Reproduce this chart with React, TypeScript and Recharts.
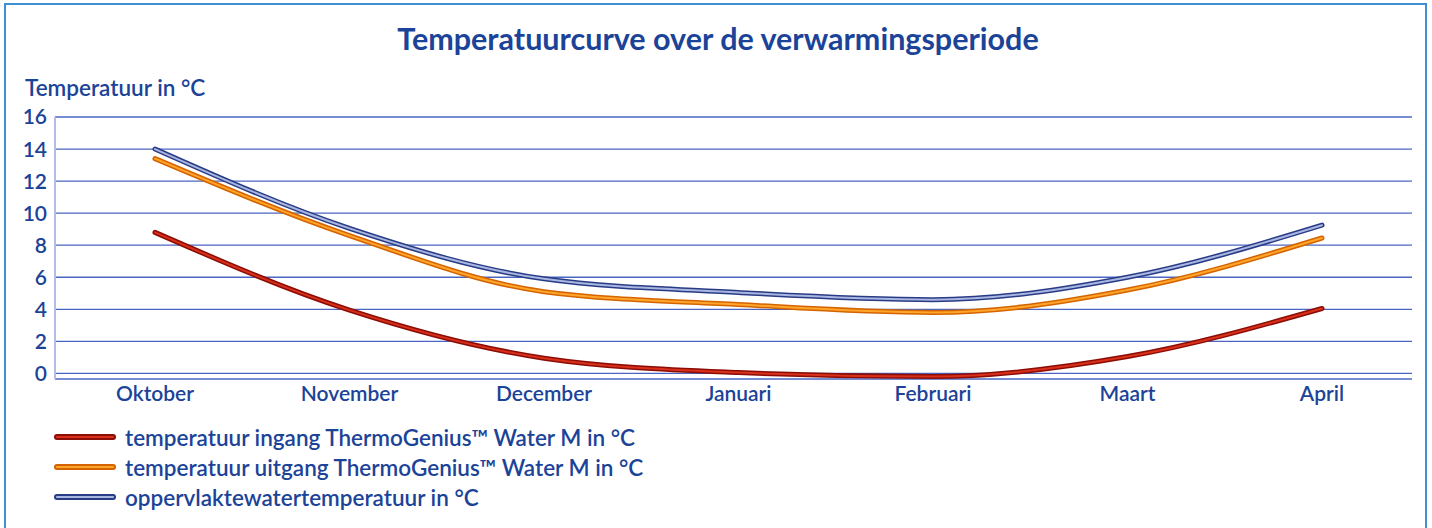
import React from 'react';
import { LineChart, Line, XAxis, YAxis, CartesianGrid } from 'recharts';

const months = ['Oktober', 'November', 'December', 'Januari', 'Februari', 'Maart', 'April'];
const ingang = [8.8, 3.95, 0.95, 0.05, -0.2, 1.05, 4.05];
const uitgang = [13.4, 8.6, 5.1, 4.3, 3.8, 5.2, 8.45];
const oppervlakte = [14.0, 9.05, 5.9, 5.05, 4.6, 6.0, 9.25];
const yTicks = [0, 2, 4, 6, 8, 10, 12, 14, 16];

const title = 'Temperatuurcurve over de verwarmingsperiode';
const yLabel = 'Temperatuur in °C';
const legendItems = [
  { key: 'ingang', label: 'temperatuur ingang ThermoGenius™ Water M in °C', dark: '#8c0c06', light: '#d8301a' },
  { key: 'uitgang', label: 'temperatuur uitgang ThermoGenius™ Water M in °C', dark: '#d46400', light: '#ffa52a' },
  { key: 'oppervlakte', label: 'oppervlaktewatertemperatuur in °C', dark: '#283c86', light: '#aab6e2' },
];

const data = months.map((m, i) => ({
  month: m,
  ingang: ingang[i],
  uitgang: uitgang[i],
  oppervlakte: oppervlakte[i],
}));

const TEXT = '#1b4398';
const FONT = 'Lato, "Open Sans", sans-serif';

export default function App() {
  const series = [...legendItems].reverse();
  return (
    <div style={{ position: 'absolute', left: 0, top: 0, width: 1432, height: 528, background: '#fff', overflow: 'hidden', fontFamily: FONT }}>
      <div style={{ position: 'absolute', left: 4, top: 3, width: 1419, height: 600, border: '2px solid #3f8fd4' }} />
      <div style={{ position: 'absolute', left: 2, top: 19, width: 1432, textAlign: 'center', color: TEXT, fontSize: 30.5, fontWeight: 700, lineHeight: '38px' }}>
        {title}
      </div>
      <div style={{ position: 'absolute', left: 25, top: 73, color: TEXT, fontSize: 22.5, fontWeight: 600, lineHeight: '30px' }}>
        {yLabel}
      </div>
      <div style={{ position: 'absolute', left: 0, top: 0 }}>
        <LineChart width={1432} height={528} data={data} margin={{ top: 117, right: 20, bottom: 119, left: 0 }}>
          <CartesianGrid horizontal vertical={false} stroke="#4a66c2" strokeWidth={1.3} />
          <XAxis
            dataKey="month"
            height={30}
            axisLine={false}
            tickLine={false}
            tickSize={0}
            tickMargin={7}
            padding={{ left: 100, right: 90 }}
            tick={{ fill: TEXT, fontSize: 21, fontWeight: 600, fontFamily: FONT }}
            interval={0}
          />
          <YAxis
            width={55}
            domain={[-0.35, 16]}
            ticks={yTicks}
            axisLine={{ stroke: '#b4bce6', strokeWidth: 2 }}
            tickLine={false}
            tickSize={0}
            tickMargin={8}
            tick={{ fill: TEXT, fontSize: 21, fontWeight: 600, fontFamily: FONT }}
          />
          {series.map((s) => (
            <Line key={s.key + '-o'} type="monotone" dataKey={s.key} stroke={s.dark} strokeWidth={5} dot={false} isAnimationActive={false} strokeLinecap="round" />
          ))}
          {series.map((s) => (
            <Line key={s.key + '-i'} type="monotone" dataKey={s.key} stroke={s.light} strokeWidth={2} dot={false} isAnimationActive={false} strokeLinecap="round" />
          ))}
        </LineChart>
      </div>
      {legendItems.map((item, i) => (
        <div key={item.key} style={{ position: 'absolute', left: 54, top: 422 + i * 30, height: 30, display: 'flex', alignItems: 'center' }}>
          <svg width={62} height={10} style={{ display: 'block' }}>
            <line x1={3} y1={5} x2={59} y2={5} stroke={item.dark} strokeWidth={6} strokeLinecap="round" />
            <line x1={3} y1={5} x2={59} y2={5} stroke={item.light} strokeWidth={2.2} strokeLinecap="round" />
          </svg>
          <span style={{ marginLeft: 9, color: TEXT, fontSize: 22.5, fontWeight: 600, whiteSpace: 'nowrap' }}>{item.label}</span>
        </div>
      ))}
    </div>
  );
}
